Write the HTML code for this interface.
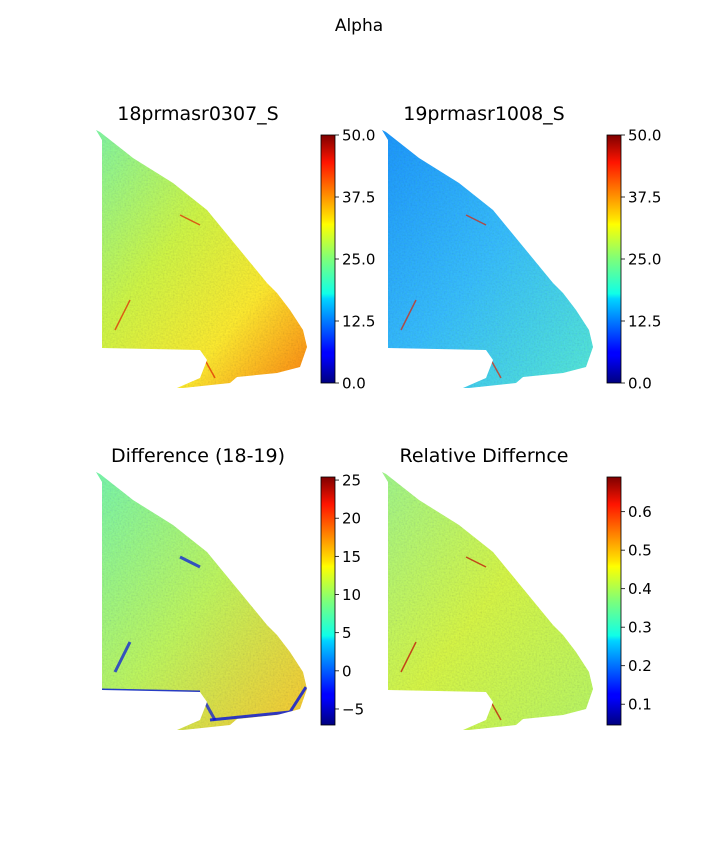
<!DOCTYPE html>
<html><head><meta charset="utf-8"><style>
body{margin:0;background:#fff}
svg{display:block;font-family:"DejaVu Sans","Liberation Sans",sans-serif}
</style></head><body>
<svg id="fig" width="720" height="864" viewBox="0 0 720 864">
<defs>
<linearGradient id="jet" x1="0" y1="1" x2="0" y2="0">
<stop offset="0" stop-color="#00007f"/><stop offset="0.11" stop-color="#0000ff"/><stop offset="0.125" stop-color="#0000ff"/>
<stop offset="0.34" stop-color="#00d4ff"/><stop offset="0.36" stop-color="#0fffe8"/><stop offset="0.5" stop-color="#7dff7a"/>
<stop offset="0.64" stop-color="#ffff00"/><stop offset="0.66" stop-color="#ffe600"/><stop offset="0.89" stop-color="#ff1400"/>
<stop offset="1" stop-color="#7f0000"/></linearGradient>
<linearGradient id="g1" x1="0" y1="0" x2="1" y2="1">
<stop offset="0" stop-color="#80f8a8"/><stop offset="0.4" stop-color="#d0f848"/><stop offset="0.7" stop-color="#ffec30"/><stop offset="1" stop-color="#ff8010"/></linearGradient>
<linearGradient id="g2" x1="0" y1="0" x2="1" y2="1">
<stop offset="0" stop-color="#1c98ff"/><stop offset="0.5" stop-color="#38c0ff"/><stop offset="1" stop-color="#58ecd8"/></linearGradient>
<linearGradient id="g3" x1="0" y1="0" x2="1" y2="1">
<stop offset="0" stop-color="#78f8b0"/><stop offset="0.5" stop-color="#c0f860"/><stop offset="1" stop-color="#ffc830"/></linearGradient>
<linearGradient id="g4" x1="0" y1="0" x2="1" y2="1">
<stop offset="0" stop-color="#a0f890"/><stop offset="0.5" stop-color="#d8f848"/><stop offset="1" stop-color="#b8f868"/></linearGradient>
<filter id="noise" x="0" y="0" width="100%" height="100%">
<feTurbulence type="fractalNoise" baseFrequency="0.6" numOctaves="2" seed="3"/>
<feColorMatrix type="matrix" values="1.4 0 0 0 -0.2  1.4 0 0 0 -0.2  0 0 1.4 0 -0.2  0 0 0 0 1"/>
</filter>
<path id="shape" d="M96,130 L100,132 L133,158 L173,183 L207,210 L267,283 L277,293 L290,310 L303,330 L307,347 L300,367 L277,373 L237,377 L230,383 L183,388 L177,388 L200,378 L207,360 L200,350 L102,348 L102,140 Z"/>
<clipPath id="clip"><use href="#shape"/></clipPath>
</defs>
<text x="359" y="31" font-size="17" text-anchor="middle">Alpha</text>
<g id="panels"></g>
<script>
const panelTitles = ["18prmasr0307_S","19prmasr1008_S","Difference (18-19)","Relative Differnce"];
const cbMin = [0, 0, -7.1, 0.046];
const cbMax = [50, 50, 25.4, 0.69];
const cbTicks = [[0,12.5,25,37.5,50],[0,12.5,25,37.5,50],[-5,0,5,10,15,20,25],[0.1,0.2,0.3,0.4,0.5,0.6]];
const cbLabels = [["0.0","12.5","25.0","37.5","50.0"],["0.0","12.5","25.0","37.5","50.0"],["\u22125","0","5","10","15","20","25"],["0.1","0.2","0.3","0.4","0.5","0.6"]];
const fills = ["url(#g1)","url(#g2)","url(#g3)","url(#g4)"];
const streakColor = ["#e02000","#e02000","#0010e0","#c00000"];
const NS="http://www.w3.org/2000/svg";
const root=document.getElementById('panels');
function mk(t,a,p){const e=document.createElementNS(NS,t);for(const k in a)e.setAttribute(k,a[k]);(p||root).appendChild(e);return e;}
for(let i=0;i<4;i++){
  const dx=(i%2)*286, dy=Math.floor(i/2)*342;
  const g=mk('g',{transform:`translate(${dx},${dy})`});
  
  
  const t=mk('text',{x:198,y:120,'font-size':19,'text-anchor':'middle'},g);
  t.textContent=panelTitles[i];
  
  
  const img=mk('g',{'clip-path':'url(#clip)'},g);
  
  
  mk('rect',{x:94,y:128,width:215,height:262,fill:fills[i]},img);
  mk('rect',{x:94,y:128,width:215,height:262,filter:'url(#noise)',opacity:0.15,style:'mix-blend-mode:multiply'},img);
  mk('path',{d:'M130,300 L115,330 M205,360 L215,378 M180,215 L200,225 M150,160 L160,170',fill:'none',stroke:streakColor[i],'stroke-width':i===2?3:1.5,opacity:0.7},img);
  if(i===2) mk('path',{d:'M102,348 L200,350 M210,378 L290,370 L306,345',fill:'none',stroke:'#0010e0','stroke-width':3,opacity:0.8},img);
  const y0=135,y1=383,x0=321,w=14;
  const cb=mk('g',{},g);
  
  
  mk('rect',{x:x0,y:y0,width:w,height:y1-y0,fill:'url(#jet)',stroke:'#000','stroke-width':0.8},cb);
  const sy=v=>y1-(v-cbMin[i])/(cbMax[i]-cbMin[i])*(y1-y0);
  cbTicks[i].forEach((v,j)=>{
    const y=sy(v);
    mk('line',{x1:x0+w,x2:x0+w+4,y1:y,y2:y,stroke:'#000','stroke-width':0.8},cb);
    const l=mk('text',{x:x0+w+7,y:y+5.5,'font-size':15},cb);
    l.textContent=cbLabels[i][j];
    
    
  });
}
</script>
</svg>
</body></html>
